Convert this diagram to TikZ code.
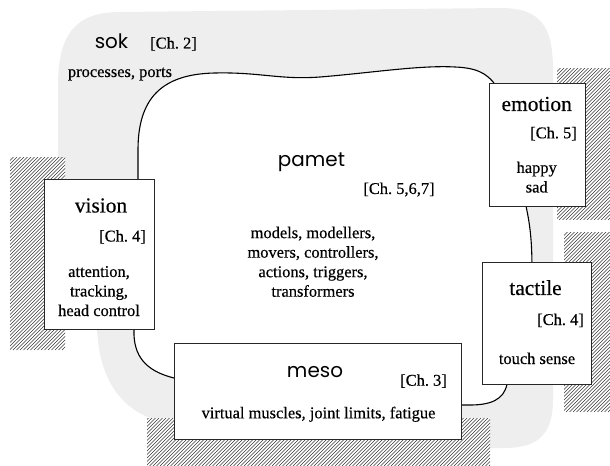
\documentclass[tikz,border=0pt]{standalone}
\usepackage{fontspec}
\setmainfont{Liberation Serif}[FakeBold=0.35]
\newfontfamily\geofont{Poppins}
\definecolor{sokgrey}{RGB}{238,238,238}
\definecolor{hatchink}{RGB}{55,55,55}

\newcommand\bodyfont{\fontsize{16.5}{19.6}\selectfont}
\newcommand\headfont{\fontsize{21.5}{24}\selectfont}
\newcommand\geohead{\geofont\fontsize{20}{24}\selectfont}

% hatched panel: x1 y1 x2 y2
\newcommand\hatchpanel[4]{%
  \begin{scope}
    \clip (#1,#2) rectangle (#3,#4);
    \fill[white] (#1,#2) rectangle (#3,#4);
    \foreach \k in {-400,-396.5,...,700}
      \draw[hatchline] (\k,#4) -- ++(400,-400);
  \end{scope}}

\begin{document}
\begin{tikzpicture}[x=1bp,y=-1bp,
  hatchline/.style={draw=hatchink,line width=0.65bp},
  box/.style={draw=black!85,fill=white,line width=0.8bp,inner sep=0pt},
  rim/.style={draw=black,line width=1.1bp,fill=white},
  txt/.style={inner sep=0pt,font=\bodyfont},
  head/.style={inner sep=0pt,font=\headfont},
  geo/.style={inner sep=0pt,font=\geohead}]
\useasboundingbox (0,0) rectangle (610,466);

% sok layer
\fill[sokgrey] (97,329) .. controls (100,390) and (130,420) .. (180,425)
  -- (180,448) -- (505,448) .. controls (540,448) and (553,432) .. (553,400)
  -- (553,70) .. controls (553,25) and (540,8) .. (500,8)
  -- (120,12) .. controls (75,12) and (58,35) .. (58,85) -- (58,329) -- cycle;

% hatched panels
\hatchpanel{10}{158}{65}{350}
\hatchpanel{557}{69}{610}{220}
\hatchpanel{564}{233}{610}{412}
\hatchpanel{147}{418}{490}{466}

% pamet region
\path[rim] (138,185) -- (138,150) .. controls (138,100) and (160,74) .. (215,73)
  .. controls (260,72) and (280,80) .. (320,77)
  .. controls (370,73) and (420,65) .. (455,67)
  .. controls (480,68) and (490,75) .. (500,92)
  -- (526,200) -- (526,206) .. controls (530,225) and (532,240) .. (532,270)
  -- (507,378) -- (507,384) .. controls (504,400) and (490,405) .. (470,405)
  -- (450,405) -- (180,378) -- (174,378) .. controls (150,372) and (135,360) .. (134,335)
  -- (134,320) -- cycle;

% boxes
\node[box,minimum width=110bp,minimum height=150bp] (vision) at (99,254) {};
\node[box,minimum width=96bp,minimum height=123bp] (emotion) at (537,144.5) {};
\node[box,minimum width=109bp,minimum height=122bp] (tactile) at (536.5,323) {};
\node[box,minimum width=287bp,minimum height=96bp] (meso) at (317.5,391) {};

% sok labels
\node[geo,anchor=base] (sokname) at (111.5,48.5) {sok};
\node[txt,anchor=base west] (sokch) at (150,48.5) {[Ch.~2]};
\node[txt,anchor=base] (sokbody) at (120,77) {processes, ports};

% pamet labels (multi-line nodes sit on the baseline of their last line)
\node[geo,anchor=base] (pametname) at (311.5,166.5) {pamet};
\node[txt,anchor=base] (pametch) at (399,194) {[Ch.~5,6,7]};
\node[txt,anchor=base,align=center] (pametbody) at (313,296.7)
  {models, modellers,\\movers, controllers,\\actions, triggers,\\transformers};

% vision labels
\node[head,anchor=base] (visionname) at (101,212.5) {vision};
\node[txt,anchor=base east] (visionch) at (146,241.5) {[Ch.~4]};
\node[txt,anchor=base,align=center] (visionbody) at (99,316)
  {attention,\\tracking,\\head control};

% emotion labels
\node[head,anchor=base] (emotionname) at (536.7,111) {emotion};
\node[txt,anchor=base east] (emotionch) at (577,138.3) {[Ch.~5]};
\node[txt,anchor=base,align=center] (emotionbody) at (536.7,192.5)
  {happy\\sad};

% tactile labels
\node[head,anchor=base] (tactilename) at (535.5,295) {tactile};
\node[txt,anchor=base east] (tactilech) at (584,325) {[Ch.~4]};
\node[txt,anchor=base] (tactilebody) at (537,364) {touch sense};

% meso labels
\node[geo,anchor=base] (mesoname) at (315,377.7) {meso};
\node[txt,anchor=base east] (mesoch) at (447,385.7) {[Ch.~3]};
\node[txt,anchor=base] (mesobody) at (318.5,418.3) {virtual muscles, joint limits, fatigue};
\end{tikzpicture}
\end{document}
